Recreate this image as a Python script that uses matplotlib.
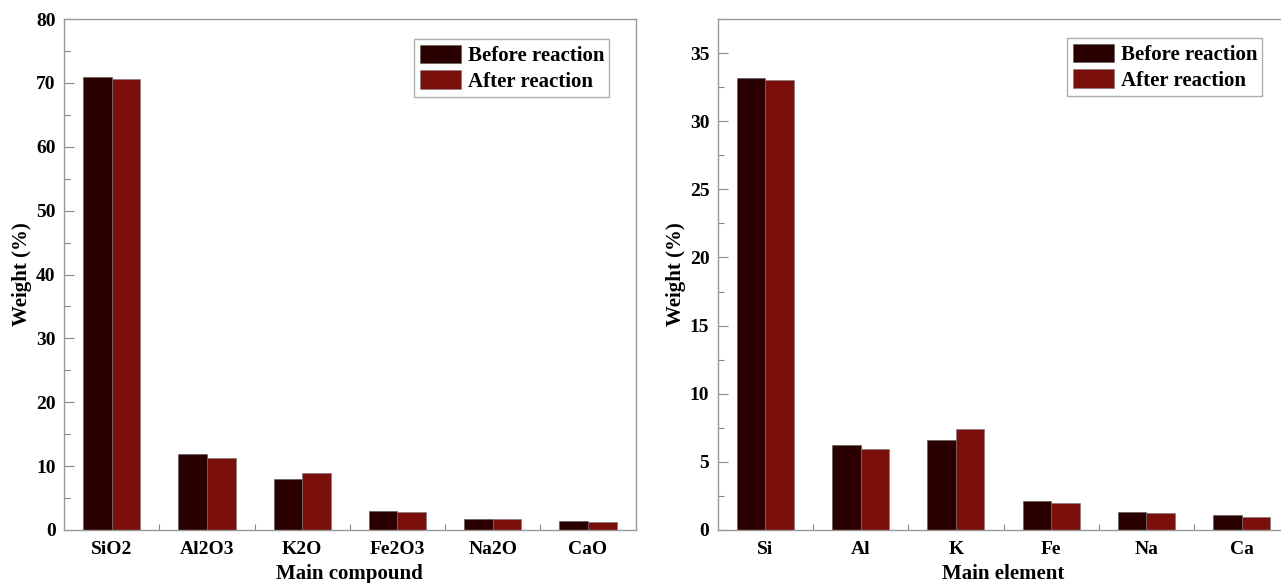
import matplotlib
matplotlib.use("Agg")
import matplotlib.pyplot as plt
import numpy as np
from matplotlib.ticker import MultipleLocator, FixedLocator

compounds = ["SiO2", "Al2O3", "K2O", "Fe2O3", "Na2O", "CaO"]
compound_before = [70.9, 11.9, 8.0, 3.0, 1.8, 1.45]
compound_after = [70.6, 11.3, 8.85, 2.8, 1.75, 1.28]

elements = ["Si", "Al", "K", "Fe", "Na", "Ca"]
element_before = [33.15, 6.27, 6.63, 2.13, 1.34, 1.09]
element_after = [33.03, 5.97, 7.38, 1.96, 1.25, 0.93]

series_labels = ["Before reaction", "After reaction"]
c_before = "#2a0000"
c_after = "#7a0f0c"

plt.rcParams["font.family"] = ["Liberation Serif", "DejaVu Serif"]
plt.rcParams["font.weight"] = "bold"

W, H = 1281, 583
fig = plt.figure(figsize=(W / 100, H / 100), dpi=100)

def make_axes(rect, cats, before, after, ymax, major, minor, xlabel):
    ax = fig.add_axes(rect)
    x = np.arange(len(cats))
    w = 0.3
    ax.bar(x - w / 2, before, w, color=c_before, edgecolor="#555555", linewidth=0.4, label=series_labels[0])
    ax.bar(x + w / 2, after, w, color=c_after, edgecolor="#777777", linewidth=0.4, label=series_labels[1])
    ax.set_xlim(-0.5, len(cats) - 0.5)
    ax.set_ylim(0, ymax)
    ax.set_xticks(x)
    ax.set_xticklabels(cats)
    ax.xaxis.set_minor_locator(FixedLocator(x[:-1] + 0.5))
    ax.yaxis.set_major_locator(MultipleLocator(major))
    ax.yaxis.set_minor_locator(MultipleLocator(minor))
    ax.tick_params(axis="x", which="major", length=0, pad=8, labelsize=14)
    ax.tick_params(axis="x", which="minor", length=4, direction="in", color="#888888", width=0.8)
    ax.tick_params(axis="y", which="major", length=7, direction="in", color="#888888", width=0.8, labelsize=14, pad=6)
    ax.tick_params(axis="y", which="minor", length=4, direction="in", color="#888888", width=0.8)
    for lab in ax.get_xticklabels() + ax.get_yticklabels():
        lab.set_fontweight("bold")
    for sp in ax.spines.values():
        sp.set_color("#999999")
        sp.set_linewidth(1.0)
    ax.set_xlabel(xlabel, fontsize=15, fontweight="bold", labelpad=4)
    ax.set_ylabel("Weight (%)", fontsize=15, fontweight="bold", labelpad=3)
    leg = ax.legend(loc="upper right", fontsize=15, frameon=True, fancybox=False, edgecolor="#999999",
                    handlelength=2.0, handleheight=1.0, handletextpad=0.3, borderpad=0.25,
                    labelspacing=0.2, borderaxespad=0)
    leg.get_frame().set_linewidth(1.0)
    for t in leg.get_texts():
        t.set_fontweight("bold")
    return ax

axw = (635.7 - 64) / W
axb = (H - 530) / H
axh = 511 / H
ax1 = make_axes([64 / W, axb, axw, axh], compounds, compound_before, compound_after,
                80, 10, 5, "Main compound")
ax2 = make_axes([717.7 / W, axb, axw, axh], elements, element_before, element_after,
                37.5, 5, 2.5, "Main element")
ax1.get_legend().set_bbox_to_anchor((609.3 / W, (H - 39.3) / H), transform=fig.transFigure)
ax2.get_legend().set_bbox_to_anchor((1262.3 / W, (H - 38.3) / H), transform=fig.transFigure)

fig.savefig("out.png", dpi=100)
